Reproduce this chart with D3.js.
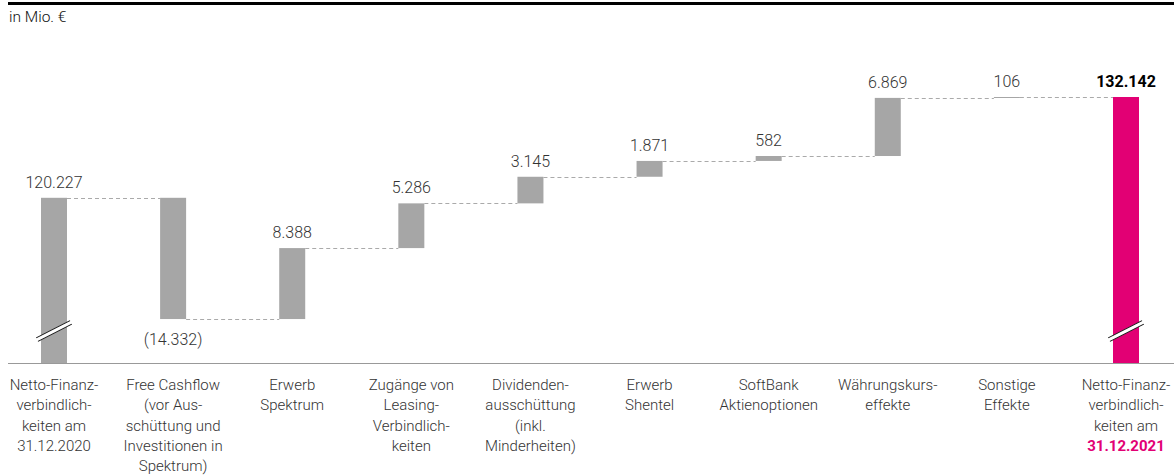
<!DOCTYPE html>
<html>
<head>
<meta charset="utf-8">
<script src="https://cdn.jsdelivr.net/npm/d3@7/dist/d3.min.js"></script>
<style>
  html, body { margin: 0; padding: 0; background: #fff; }
  svg { display: block; font-family: Roboto, "Noto Sans", sans-serif; }
</style>
</head>
<body>
<svg id="chart" width="1174" height="475"></svg>
<script>
// Categories (multi-line axis labels)
const categories = [
  ["Netto-Finanz-", "verbindlich-", "keiten am", "31.12.2020"],
  ["Free Cashflow", "(vor Aus-", "schüttung und", "Investitionen in", "Spektrum)"],
  ["Erwerb", "Spektrum"],
  ["Zugänge von", "Leasing-", "Verbindlich-", "keiten"],
  ["Dividenden-", "ausschüttung", "(inkl.", "Minderheiten)"],
  ["Erwerb", "Shentel"],
  ["SoftBank", "Aktienoptionen"],
  ["Währungskurs-", "effekte"],
  ["Sonstige", "Effekte"],
  ["Netto-Finanz-", "verbindlich-", "keiten am", "31.12.2021"]
];
// Values in Mio. € ; first and last are totals, the rest are changes
const values = [120227, -14332, 8388, 5286, 3145, 1871, 582, 6869, 106, 132142];
const kinds = ["total", "delta", "delta", "delta", "delta", "delta", "delta", "delta", "delta", "total"];
const unitLabel = "in Mio. €";

const grey = "#a6a6a6", magenta = "#e20074";
const de = d3.formatLocale({ decimal: ",", thousands: ".", grouping: [3], currency: ["", " €"] });
const fmt = v => v < 0 ? "(" + de.format(",")(-v) + ")" : de.format(",")(v);

// Build waterfall steps
let run = 0;
const steps = values.map((v, i) => {
  let lo, hi, end;
  if (kinds[i] === "total") { lo = null; hi = v; end = v; }
  else { const start = run; end = run + v; lo = Math.min(start, end); hi = Math.max(start, end); }
  run = end;
  return { i, v, kind: kinds[i], lo, hi, end, last: i === values.length - 1 };
});

const svg = d3.select("#chart");
const baseY = 363;
const x = d3.scalePoint().domain(d3.range(categories.length)).range([54, 1126]);
const y = d3.scaleLinear().domain([100700, 132142]).range([baseY, 97]);
const bw = 26;

// Top rule and unit
svg.append("rect").attr("x", 8).attr("y", 2).attr("width", 1166).attr("height", 3).attr("fill", "#000");
svg.append("text").attr("x", 9).attr("y", 22).attr("font-size", 15.5).attr("font-weight", 300).attr("fill", "#111").text(unitLabel);

// Connectors
const conn = svg.append("g").attr("stroke", "#aaa").attr("stroke-width", 1).attr("stroke-dasharray", "4,3");
steps.slice(0, -1).forEach(s => {
  conn.append("line")
    .attr("x1", x(s.i) + bw / 2).attr("x2", x(s.i + 1) - bw / 2)
    .attr("y1", Math.round(y(s.end)) + 0.5).attr("y2", Math.round(y(s.end)) + 0.5);
});

// Bars
svg.append("g").selectAll("rect").data(steps).join("rect")
  .attr("x", d => x(d.i) - bw / 2)
  .attr("width", bw)
  .attr("y", d => y(d.hi))
  .attr("height", d => d.kind === "total" ? baseY - y(d.hi) : Math.max(1, y(d.lo) - y(d.hi)))
  .attr("fill", d => d.last ? magenta : grey);

// Axis baseline
svg.append("line").attr("x1", 8).attr("x2", 1174).attr("y1", baseY + 0.5).attr("y2", baseY + 0.5)
  .attr("stroke", "#999").attr("stroke-width", 1);

// Scale-break marks on the total bars
steps.filter(d => d.kind === "total").forEach(d => {
  const cx = x(d.i), cy = 331;
  const g = svg.append("g").attr("transform", `translate(${cx},${cy}) rotate(-27)`);
  g.append("rect").attr("x", -19).attr("y", -2).attr("width", 38).attr("height", 4).attr("fill", "#fff");
  g.append("line").attr("x1", -19).attr("x2", 19).attr("y1", -2).attr("y2", -2).attr("stroke", "#111").attr("stroke-width", 1);
  g.append("line").attr("x1", -19).attr("x2", 19).attr("y1", 2).attr("y2", 2).attr("stroke", "#111").attr("stroke-width", 1);
});

// Value labels
svg.append("g").selectAll("text").data(steps).join("text")
  .attr("x", d => x(d.i))
  .attr("y", d => d.v < 0 ? y(d.lo) + 26 : y(d.hi) - 10)
  .attr("text-anchor", "middle")
  .attr("font-size", 16)
  .attr("font-weight", d => d.last ? 700 : 300)
  .attr("fill", d => d.last ? "#000" : "#333")
  .text(d => fmt(d.v));

// Category labels
const cat = svg.append("g");
categories.forEach((lines, i) => {
  const t = cat.append("text").attr("x", x(i)).attr("y", 390).attr("text-anchor", "middle")
    .attr("font-size", 15).attr("font-weight", 300).attr("fill", "#333");
  lines.forEach((ln, j) => {
    const sp = t.append("tspan").attr("x", x(i)).attr("dy", j === 0 ? 0 : 20.3).text(ln);
    if (i === categories.length - 1 && j === lines.length - 1) sp.attr("font-weight", 700).attr("fill", magenta);
  });
});
</script>
</body>
</html>
